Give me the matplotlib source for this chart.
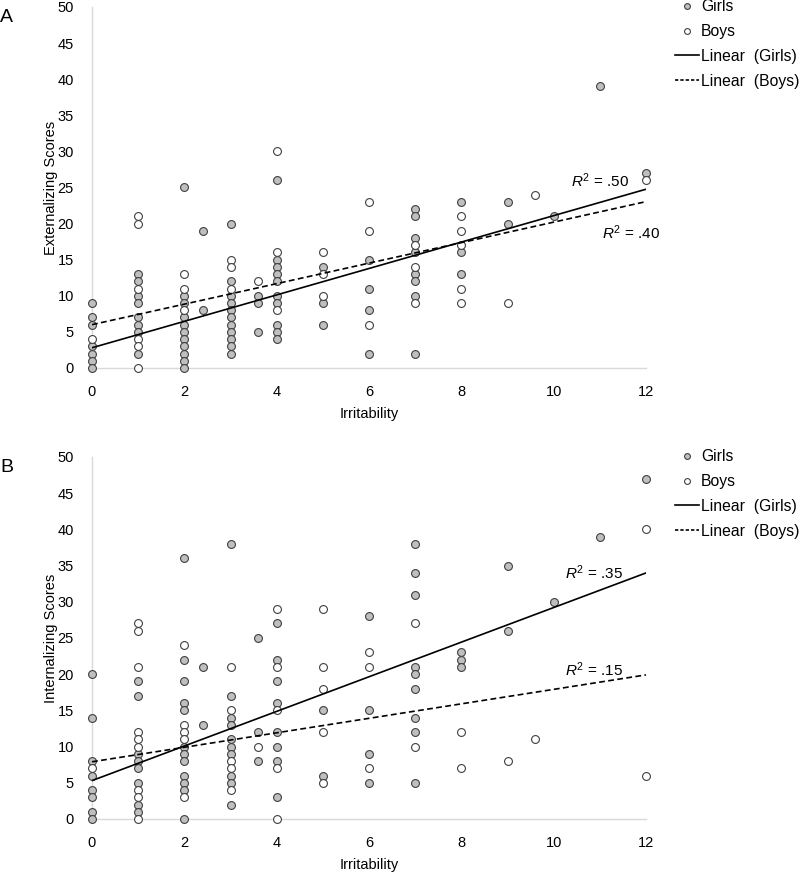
import matplotlib
matplotlib.use("Agg")
import matplotlib.pyplot as plt
from matplotlib.lines import Line2D
import numpy as np

plt.rcParams['font.family'] = ['Liberation Sans', 'DejaVu Sans']
plt.rcParams['mathtext.fontset'] = 'custom'
plt.rcParams['mathtext.rm'] = 'Liberation Sans'
plt.rcParams['mathtext.it'] = 'Liberation Sans:italic'

# ---------------- data ----------------
# Panel A: externalizing scores, keyed by irritability value
ext_girls = {0: [9, 7, 6, 3, 2, 1, 0],
             1: [13, 12, 10, 9, 7, 6, 5, 2],
             2: [25, 10, 9, 7, 6, 5, 4, 3, 2, 1, 0],
             2.4: [19, 8],
             3: [20, 12, 10, 9, 8, 7, 6, 5, 4, 3, 2],
             3.6: [10, 9, 5],
             4: [26, 15, 14, 13, 12, 10, 9, 6, 5, 4],
             5: [14, 9, 6],
             6: [15, 11, 8, 2],
             7: [22, 21, 18, 16, 13, 12, 10, 2],
             8: [23, 16, 13],
             9: [23, 20],
             10: [21],
             11: [39],
             12: [27]}
ext_boys = {0: [4],
            1: [21, 20, 11, 4, 3, 0],
            2: [13, 11, 8],
            3: [15, 14, 11],
            3.6: [12],
            4: [30, 16, 8],
            5: [16, 13, 10],
            6: [23, 19, 6],
            7: [17, 14, 9],
            8: [21, 19, 17, 11, 9],
            9: [9],
            9.6: [24],
            12: [26]}
# Panel B: internalizing scores
int_girls = {0: [20, 14, 8, 6, 4, 3, 1, 0],
             1: [19, 17, 9, 8, 7, 5, 2, 1],
             2: [36, 22, 19, 16, 15, 10, 9, 8, 6, 5, 4, 0],
             2.4: [21, 13],
             3: [38, 17, 14, 13, 11, 10, 9, 6, 5, 2],
             3.6: [25, 12, 8],
             4: [27, 22, 19, 16, 12, 10, 8, 3],
             5: [15, 6],
             6: [28, 15, 9, 5],
             7: [38, 34, 31, 21, 20, 18, 14, 12, 5],
             8: [23, 22, 21],
             9: [35, 26],
             10: [30],
             11: [39],
             12: [47]}
int_boys = {0: [7],
            1: [27, 26, 21, 12, 11, 10, 4, 3, 0],
            2: [24, 13, 12, 11, 3],
            3: [21, 15, 8, 7, 4],
            3.6: [10],
            4: [29, 21, 15, 7, 0],
            5: [29, 21, 18, 12, 5],
            6: [23, 21, 7],
            7: [27, 10],
            8: [12, 7],
            9: [8],
            9.6: [11],
            12: [40, 6]}

# trend lines: [intercept, slope]
ext_girls_fit = [2.8, 1.83]
ext_boys_fit = [6.0, 1.42]
int_girls_fit = [5.3, 2.39]
int_boys_fit = [7.9, 1.0]

r2_labels_ext = ['.50', '.40']
r2_labels_int = ['.35', '.15']
legend_labels = ['Girls', 'Boys', 'Linear  (Girls)', 'Linear  (Boys)']
x_ticks = [0, 2, 4, 6, 8, 10, 12]
y_ticks = [0, 5, 10, 15, 20, 25, 30, 35, 40, 45, 50]


def flatten(d):
    xs, ys = [], []
    for k, vals in d.items():
        for v in vals:
            xs.append(k)
            ys.append(v)
    return np.array(xs, float), np.array(ys, float)


GREY = '#bfbfbf'
EDGE = '#404040'
AXCOL = '#d9d9d9'

fig = plt.figure(figsize=(8.0, 8.72), dpi=100)
axA = fig.add_axes([0.115, 0.578, 0.6925, 0.414])
axB = fig.add_axes([0.115, 0.0608, 0.6925, 0.4152])


def draw(ax, girls, boys, gfit, bfit, ylabel, r2, r2pos, panel):
    gx, gy = flatten(girls)
    bx, by = flatten(boys)
    ax.scatter(gx, gy, s=32, facecolor=GREY, edgecolor=EDGE, linewidth=0.8,
               zorder=3, clip_on=False)
    ax.scatter(bx, by, s=32, facecolor='white', edgecolor=EDGE, linewidth=0.8,
               zorder=3, clip_on=False)
    xl = np.array([0, 12])
    ax.plot(xl, gfit[0] + gfit[1] * xl, color='black', lw=1.2, zorder=4)
    ax.plot(xl, bfit[0] + bfit[1] * xl, color='black', lw=1.2,
            linestyle=(0, (3.5, 2)), zorder=4)
    ax.set_xlim(0, 12)
    ax.set_ylim(0, 50)
    ax.set_xticks(x_ticks)
    ax.set_yticks(y_ticks)
    for s in ['top', 'right']:
        ax.spines[s].set_visible(False)
    for s in ['left', 'bottom']:
        ax.spines[s].set_color(AXCOL)
        ax.spines[s].set_linewidth(1.0)
    ax.tick_params(length=0, labelsize=10.5, colors='black')
    ax.tick_params(axis='y', pad=13)
    ax.tick_params(axis='x', pad=12)
    ax.set_xlabel('Irritability', fontsize=10.5, labelpad=6)
    ax.set_ylabel(ylabel, fontsize=10.5, labelpad=0)
    for lab, (px, py) in zip(r2, r2pos):
        ax.text(px, py, r'$R^2$ = ' + lab, fontsize=11, ha='left', va='center')
    handles = [Line2D([], [], marker='o', linestyle='none', markersize=4.2,
                      markerfacecolor=GREY, markeredgecolor=EDGE, markeredgewidth=0.8),
               Line2D([], [], marker='o', linestyle='none', markersize=4.2,
                      markerfacecolor='white', markeredgecolor=EDGE, markeredgewidth=0.8),
               Line2D([], [], color='black', lw=1.2),
               Line2D([], [], color='black', lw=1.2, linestyle=(0, (2, 1.2)))]
    ax.legend(handles, legend_labels,
              loc='upper left', bbox_to_anchor=(1.052, 1.021), frameon=False,
              fontsize=11.3, handlelength=1.55, handletextpad=0.12,
              labelspacing=0.62, borderaxespad=0, borderpad=0)
    ax.text(-0.166, 0.97, panel, transform=ax.transAxes, fontsize=14,
            ha='left', va='center')


draw(axA, ext_girls, ext_boys, ext_girls_fit, ext_boys_fit,
     'Externalizing Scores', r2_labels_ext, [(10.38, 25.9), (11.04, 18.8)], 'A')
draw(axB, int_girls, int_boys, int_girls_fit, int_boys_fit,
     'Internalizing Scores', r2_labels_int, [(10.24, 34.0), (10.24, 20.6)], 'B')

fig.savefig('out.png', dpi=100)
